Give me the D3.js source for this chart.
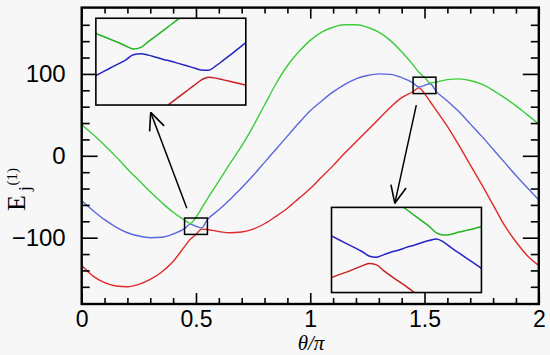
<!DOCTYPE html>
<html><head><meta charset="utf-8">
<script src="https://cdn.jsdelivr.net/npm/d3@7"></script>
<style>html,body{margin:0;padding:0;background:#f7f7f7;}svg{display:block;}</style>
</head><body>
<svg id="chart" width="550" height="355"></svg>
<script>
// ---------- data ----------
const theta = [0,0.05,0.1,0.15,0.2,0.25,0.3,0.35,0.4,0.45,0.475,0.5,0.525,0.55,0.6,0.65,0.7,0.75,0.8,0.85,0.9,0.95,1,1.05,1.1,1.15,1.2,1.25,1.3,1.35,1.4,1.45,1.475,1.5,1.525,1.55,1.6,1.65,1.7,1.75,1.8,1.85,1.9,1.95,2];
const redE   = [-134,-147,-155,-159,-160,-157,-151,-142,-129,-111,-102,-96,-89.5,-90,-92.5,-94,-93,-89.5,-83,-74,-64,-52,-40,-26,-12,3,17,31,45,59,71,78.5,83,76,66,56,36,13,-11,-35,-60,-85,-105,-122,-134];
const blueE  = [-55,-67,-78,-87,-94,-98,-100,-99.5,-95.5,-89,-83.5,-86,-88,-78,-66,-53,-39,-24,-8,8,24,40,55,67,78,87,94,98,100,99.5,95.5,89,84,86,88,79,67,54,39,24,8,-8,-24,-39,-54];
const greenE = [38,26,13,-1,-16,-30,-44,-57,-69,-78.5,-82.5,-75,-64,-52.5,-31,-9,12,36,62,88,110,127,141,151,157,160,160,157,151,141,127,111,102,96,89,90,93,94,92,87.5,80,71,61,50,39];

// inset 1 (zoom of box around theta/pi = 0.5)
const ins1Theta = [0.45,0.455,0.46,0.465,0.47,0.475,0.48,0.485,0.49,0.495,0.5,0.505,0.51,0.515,0.52,0.525,0.53,0.535,0.54,0.545,0.55];
const ins1Red   = [-108.5,-107.2,-105.9,-104.6,-103.3,-102.0,-100.7,-99.4,-98.1,-96.8,-95.5,-94.2,-92.9,-91.6,-90.3,-89.6,-89.8,-90.2,-90.6,-91.0,-91.4];
const ins1Blue  = [-89.2,-88.3,-87.4,-86.5,-85.6,-84.4,-84.2,-84.5,-85.0,-85.5,-85.9,-86.4,-86.9,-87.4,-87.9,-88.0,-87.0,-85.7,-84.4,-83.0,-81.6];
const ins1Green = [-79.5,-80.2,-80.9,-81.6,-82.4,-83.1,-82.7,-81.4,-80.1,-78.8,-77.5,-76.2,-74.9,-73.6,-72.3,-71.0,-69.7,-68.4,-67.1,-65.8,-64.5];
// inset 2 (zoom of box around theta/pi = 1.5)
const ins2Theta = [1.45,1.455,1.46,1.465,1.47,1.475,1.48,1.485,1.49,1.495,1.5,1.505,1.51,1.515,1.52,1.525,1.53,1.535,1.54,1.545,1.55];
const ins2Red   = [79.5,80.2,80.8,81.5,82.2,82.8,82.5,81.1,79.8,78.6,77.4,76.1,74.9,73.7,72.5,71.2,70.0,68.8,67.6,66.3,65.1];
const ins2Blue  = [89.3,88.4,87.5,86.6,85.7,84.6,84.3,84.9,85.5,86.0,86.6,87.1,87.7,88.2,88.6,87.8,86.5,85.3,84.1,82.9,81.7];
const ins2Green = [108.5,107.2,105.9,104.6,103.3,102.0,100.7,99.4,98.1,96.8,95.5,94.2,92.9,91.6,90.0,89.5,89.7,90.2,90.6,91.0,91.5];

// zoom boxes (data units) and inset frames (data units of main plot)
const box1 = {x:[0.45,0.55], y:[-96,-76]};
const box2 = {x:[1.45,1.55], y:[76,96]};
const inset1Frame = {x:[0.062,0.718], y:[62,168]};
const inset2Frame = {x:[1.093,1.749], y:[-167,-63]};
// arrows: from -> to (data units)
const arrows = [ {from:[0.46,-64], to:[0.302,53]}, {from:[1.464,62], to:[1.37,-58]} ];

// ticks
const xMajor = [0,0.5,1,1.5,2];
const xMinor = [0.1,0.2,0.3,0.4,0.6,0.7,0.8,0.9,1.1,1.2,1.3,1.4,1.6,1.7,1.8,1.9];
const xLabels = ["0","0.5","1","1.5","2"];
const yMajor = [-100,0,100];
const yMinor = [-160,-140,-120,-80,-60,-40,-20,20,40,60,80,120,140,160];
const yLabels = ["\u2212100","0","100"];

// ---------- drawing ----------
const svg = d3.select("#chart");
const x = d3.scaleLinear().domain([0,2]).range([81.7,538.8]);
const y = d3.scaleLinear().domain([-181,181]).range([304,7.6]);
const L = x(0), R = x(2), T = y(181), B = y(-181);

const colMain = {red:"#e02a2a", blue:"#5a68dc", green:"#3ccc3c"};
const colIns  = {red:"#c82020", blue:"#2424c4", green:"#22b422"};

svg.append("rect").attr("width",550).attr("height",355).attr("fill","#f7f7f7");

svg.append("clipPath").attr("id","plotclip").append("rect")
  .attr("x",L).attr("y",T).attr("width",R-L).attr("height",B-T);

const line = d3.line().x(d=>x(d[0])).y(d=>y(d[1])).curve(d3.curveMonotoneX);
const gc = svg.append("g").attr("clip-path","url(#plotclip)");
[[redE,colMain.red],[blueE,colMain.blue],[greenE,colMain.green]].forEach(([vals,c])=>{
  gc.append("path").datum(theta.map((t,i)=>[t,vals[i]]))
    .attr("d",line).attr("fill","none").attr("stroke",c).attr("stroke-width",1.4);
});

// axes with inward ticks
function styleAxis(g){ g.select(".domain").remove(); g.selectAll("line").attr("stroke","#000").attr("stroke-width",1.6); }
const fontSans = "'Liberation Sans', Arial, sans-serif";
// bottom
svg.append("g").attr("transform",`translate(0,${B})`)
  .call(d3.axisBottom(x).tickValues(xMajor).tickSizeInner(-11).tickSizeOuter(0).tickPadding(7)
        .tickFormat((d,i)=>xLabels[i]))
  .call(styleAxis)
  .call(g=>g.selectAll("text").attr("font-family",fontSans).attr("font-size",23).attr("fill","#000"));
svg.append("g").attr("transform",`translate(0,${B})`)
  .call(d3.axisBottom(x).tickValues(xMinor).tickSizeInner(-6).tickSizeOuter(0).tickFormat(""))
  .call(styleAxis);
// top
svg.append("g").attr("transform",`translate(0,${T})`)
  .call(d3.axisTop(x).tickValues(xMajor).tickSizeInner(-11).tickSizeOuter(0).tickFormat(""))
  .call(styleAxis);
svg.append("g").attr("transform",`translate(0,${T})`)
  .call(d3.axisTop(x).tickValues(xMinor).tickSizeInner(-6).tickSizeOuter(0).tickFormat(""))
  .call(styleAxis);
// left
svg.append("g").attr("transform",`translate(${L},0)`)
  .call(d3.axisLeft(y).tickValues(yMajor).tickSizeInner(-16).tickSizeOuter(0).tickPadding(16)
        .tickFormat((d,i)=>yLabels[i]))
  .call(styleAxis)
  .call(g=>g.selectAll("text").attr("font-family",fontSans).attr("font-size",24).attr("fill","#000"));
svg.append("g").attr("transform",`translate(${L},0)`)
  .call(d3.axisLeft(y).tickValues(yMinor).tickSizeInner(-8).tickSizeOuter(0).tickFormat(""))
  .call(styleAxis);
// right
svg.append("g").attr("transform",`translate(${R},0)`)
  .call(d3.axisRight(y).tickValues(yMajor).tickSizeInner(-16).tickSizeOuter(0).tickFormat(""))
  .call(styleAxis);
svg.append("g").attr("transform",`translate(${R},0)`)
  .call(d3.axisRight(y).tickValues(yMinor).tickSizeInner(-8).tickSizeOuter(0).tickFormat(""))
  .call(styleAxis);

// frame
svg.append("rect").attr("x",L).attr("y",T).attr("width",R-L).attr("height",B-T)
  .attr("fill","none").attr("stroke","#000").attr("stroke-width",2.4);

// zoom boxes
[box1,box2].forEach(b=>{
  svg.append("rect").attr("x",x(b.x[0])).attr("y",y(b.y[1]))
    .attr("width",x(b.x[1])-x(b.x[0])).attr("height",y(b.y[0])-y(b.y[1]))
    .attr("fill","none").attr("stroke","#000").attr("stroke-width",1.5);
});

// arrows
arrows.forEach(a=>{
  const x0=x(a.from[0]), y0=y(a.from[1]), x1=x(a.to[0]), y1=y(a.to[1]);
  svg.append("line").attr("x1",x0).attr("y1",y0).attr("x2",x1).attr("y2",y1)
    .attr("stroke","#000").attr("stroke-width",1.5);
  const ang = Math.atan2(y0-y1, x0-x1), len = 19, spread = 0.42;
  [ang-spread, ang+spread].forEach(t=>{
    svg.append("line").attr("x1",x1).attr("y1",y1)
      .attr("x2",x1+len*Math.cos(t)).attr("y2",y1+len*Math.sin(t))
      .attr("stroke","#000").attr("stroke-width",1.6);
  });
});

// insets
function drawInset(id, frame, box, xs, r, b, g){
  const fx0=x(frame.x[0]), fx1=x(frame.x[1]), fy0=y(frame.y[1]), fy1=y(frame.y[0]);
  const ix = d3.scaleLinear().domain(box.x).range([fx0,fx1]);
  const iy = d3.scaleLinear().domain(box.y).range([fy1,fy0]);
  svg.append("clipPath").attr("id",id).append("rect")
    .attr("x",fx0).attr("y",fy0).attr("width",fx1-fx0).attr("height",fy1-fy0);
  svg.append("rect").attr("x",fx0).attr("y",fy0).attr("width",fx1-fx0).attr("height",fy1-fy0)
    .attr("fill","#f7f7f7");
  const il = d3.line().x(d=>ix(d[0])).y(d=>iy(d[1])).curve(d3.curveMonotoneX);
  const gi = svg.append("g").attr("clip-path",`url(#${id})`);
  [[r,colIns.red],[b,colIns.blue],[g,colIns.green]].forEach(([vals,c])=>{
    gi.append("path").datum(xs.map((t,i)=>[t,vals[i]])).attr("d",il)
      .attr("fill","none").attr("stroke",c).attr("stroke-width",1.5);
  });
  svg.append("rect").attr("x",fx0).attr("y",fy0).attr("width",fx1-fx0).attr("height",fy1-fy0)
    .attr("fill","none").attr("stroke","#000").attr("stroke-width",1.6);
}
drawInset("ins1", inset1Frame, box1, ins1Theta, ins1Red, ins1Blue, ins1Green);
drawInset("ins2", inset2Frame, box2, ins2Theta, ins2Red, ins2Blue, ins2Green);

// axis titles
svg.append("text").attr("x",311).attr("y",350).attr("text-anchor","middle")
  .attr("font-family","'Liberation Serif', 'Times New Roman', serif").attr("font-style","italic")
  .attr("font-size",21).attr("fill","#000").text("\u03B8/\u03C0");

const yl = svg.append("text").attr("transform","translate(25,211) rotate(-90)")
  .attr("font-family","'Liberation Serif', 'Times New Roman', serif").attr("fill","#000");
yl.append("tspan").attr("font-size",26).text("E");
yl.append("tspan").attr("font-size",17).attr("dx",4).attr("dy",5).text("j");
yl.append("tspan").attr("font-size",15).attr("dx",1).attr("dy",-13).text("(1)");
</script>
</body></html>
